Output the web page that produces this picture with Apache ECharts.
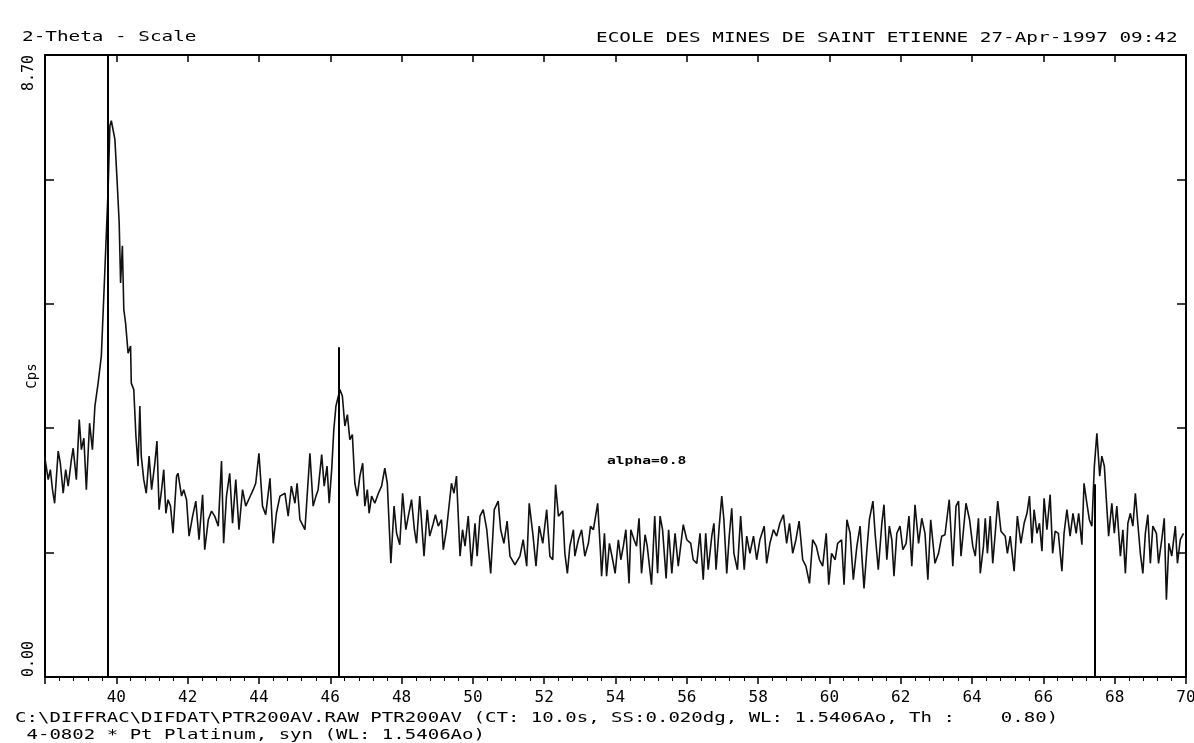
<!DOCTYPE html>
<html>
<head>
<meta charset="utf-8">
<script src="https://cdn.jsdelivr.net/npm/echarts@6/dist/echarts.min.js"></script>
<style>
html,body{margin:0;padding:0;background:#fff;}
#chart{width:1194px;height:743px;}
</style>
</head>
<body>
<div id="chart"></div>
<script>
// 2-theta positions (degrees)
const twoTheta = [
37.99,38.09,38.15,38.21,38.27,38.37,38.43,38.51,38.58,38.65,38.74,38.79,38.88,38.96,39.02,39.09,39.16,39.25,39.33,39.40,
39.49,39.58,39.68,39.77,39.82,39.86,39.96,40.02,40.08,40.12,40.17,40.21,40.26,40.33,40.40,40.42,40.49,40.55,40.61,40.66,
40.70,40.77,40.84,40.92,40.99,41.08,41.14,41.20,41.27,41.33,41.39,41.45,41.52,41.59,41.69,41.73,41.83,41.89,41.97,42.04,
42.14,42.23,42.32,42.42,42.48,42.58,42.67,42.76,42.86,42.95,43.01,43.09,43.18,43.26,43.35,43.44,43.54,43.63,43.73,43.84,
43.91,44.00,44.10,44.19,44.31,44.40,44.49,44.59,
44.73,44.82,44.91,45.01,45.07,45.15,45.29,45.43,45.52,45.60,45.66,45.76,45.83,45.91,45.97,46.04,46.10,46.16,46.27,46.34,
46.41,46.48,46.55,46.62,46.69,46.76,46.83,46.91,46.97,47.04,47.09,47.16,47.25,47.35,47.44,47.53,47.60,47.70,47.79,47.86,
47.95,48.03,48.12,48.19,48.28,48.36,48.42,48.51,48.63,48.72,48.79,48.89,48.95,49.03,49.12,49.17,49.26,49.40,49.47,49.54,
49.64,49.71,49.78,49.87,49.96,50.06,50.12,50.20,50.29,50.39,50.50,50.60,50.71,50.78,50.87,50.96,51.04,51.18,51.32,51.41,
51.51,51.58,51.68,51.77,51.86,51.96,52.07,52.16,52.24,52.32,52.40,52.52,
52.58,52.65,52.72,52.82,52.86,52.96,53.05,53.14,53.24,53.30,53.38,53.50,53.58,53.61,53.69,53.75,53.83,53.92,53.99,54.08,
54.15,54.22,54.29,54.38,54.43,54.52,54.59,54.66,54.73,54.83,54.89,55.01,55.10,55.18,55.25,55.32,55.42,55.49,55.58,55.67,
55.76,55.90,56.00,56.11,56.18,56.28,56.37,56.46,56.53,56.60,56.70,56.76,56.82,56.91,56.98,57.04,57.12,57.19,57.26,57.32,
57.42,57.51,57.61,57.68,57.77,57.87,57.96,58.05,58.17,58.24,58.33,58.43,58.52,58.61,58.71,58.80,58.88,58.97,59.06,59.15,
59.25,59.34,59.44,59.53,59.63,59.72,59.81,59.91,59.98,60.06,60.16,60.23,60.34,60.41,60.49,60.58,60.67,60.77,60.86,
60.91,60.97,61.05,61.12,61.22,61.28,61.37,61.47,61.53,61.61,61.68,61.75,61.81,61.89,61.98,62.06,62.15,62.23,62.31,62.40,
62.50,62.59,62.68,62.76,62.84,62.96,63.06,63.15,63.24,63.36,63.46,63.55,63.62,63.69,63.83,63.93,64.02,64.09,64.18,64.23,
64.32,64.37,64.43,64.51,64.58,64.65,64.72,64.81,64.93,64.99,65.07,65.18,65.27,65.37,65.46,65.54,65.61,65.68,65.74,65.82,
65.89,65.96,66.02,66.10,66.19,66.26,66.33,66.42,66.52,66.58,66.66,66.75,66.83,66.92,66.99,67.08,67.14,67.22,67.29,67.36,
67.43,67.50,67.58,67.64,67.71,67.76,67.83,67.92,67.99,68.06,68.16,68.23,68.30,68.37,68.44,68.51,68.58,68.64,68.72,68.79,
68.86,68.93,69.00,69.07,69.17,69.23,69.32,69.39,69.45,69.52,69.60,69.70,69.76,69.84,69.93
];
// intensity (Cps, as read on the 0.00 - 8.70 scale)
const intensity = [
3.09,2.76,2.90,2.62,2.43,3.16,2.99,2.57,2.90,2.67,3.04,3.20,2.76,3.60,3.18,3.34,2.62,3.55,3.18,3.79,
4.11,4.49,5.70,6.82,7.71,7.78,7.52,6.96,6.36,5.51,6.03,5.14,4.95,4.53,4.63,4.11,4.02,3.37,2.95,3.79,
3.09,2.76,2.57,3.09,2.62,2.99,3.30,2.34,2.62,2.90,2.29,2.48,2.39,2.01,2.81,2.85,2.53,2.62,2.48,1.97,
2.25,2.46,1.92,2.55,1.78,2.20,2.32,2.25,2.11,3.02,1.87,2.53,2.85,2.15,2.76,2.06,2.62,2.39,2.50,2.62,
2.71,3.13,2.39,2.27,2.78,1.87,2.29,2.53,
2.57,2.25,2.67,2.43,2.71,2.20,2.06,3.13,2.39,2.53,2.62,3.11,2.67,2.95,2.43,2.90,3.46,3.79,4.02,3.93,
3.51,3.67,3.32,3.39,2.71,2.53,2.81,2.99,2.39,2.62,2.29,2.53,2.43,2.57,2.67,2.92,2.71,1.59,2.39,2.01,
1.85,2.57,2.06,2.25,2.48,2.06,1.87,2.53,1.69,2.34,1.97,2.15,2.27,2.11,2.20,1.78,2.06,2.71,2.57,2.81,
1.69,2.06,1.83,2.25,1.55,2.15,1.69,2.25,2.34,2.06,1.45,2.34,2.46,2.06,1.87,2.18,1.69,1.57,1.69,1.92,
1.55,2.43,2.01,1.55,2.11,1.87,2.34,1.69,1.64,2.69,2.25,2.32,
1.73,1.45,1.83,2.06,1.69,1.92,2.06,1.69,1.87,2.11,2.06,2.43,1.73,1.41,2.01,1.41,1.87,1.64,1.45,1.92,
1.64,1.83,2.06,1.31,2.06,1.92,1.83,2.22,1.45,1.99,1.83,1.29,2.25,1.45,2.25,2.06,1.38,2.06,1.45,2.01,
1.55,2.13,1.92,1.87,1.64,1.59,2.01,1.36,2.01,1.50,1.97,2.15,1.50,2.11,2.53,2.20,1.45,1.97,2.36,1.73,
1.50,2.25,1.50,1.97,1.73,1.97,1.64,1.92,2.11,1.59,1.87,2.06,1.97,2.15,2.27,1.87,2.15,1.73,1.92,2.18,
1.64,1.55,1.31,1.92,1.83,1.64,1.55,2.01,1.29,1.73,1.64,1.87,1.92,1.29,2.20,2.01,1.36,1.83,2.11,
1.69,1.24,1.78,2.20,2.46,2.01,1.50,2.15,2.41,1.64,2.11,1.92,1.41,2.01,2.11,1.78,1.87,2.25,1.55,2.41,
1.87,2.22,2.01,1.36,2.20,1.59,1.73,1.97,1.99,2.48,1.55,2.39,2.46,1.69,2.43,2.20,1.83,1.69,2.22,1.45,
1.83,2.22,1.73,2.25,1.59,2.01,2.46,2.04,1.97,1.73,1.97,1.48,2.25,1.87,2.15,2.29,2.53,1.87,2.34,2.01,
2.15,1.76,2.50,2.06,2.55,1.73,2.04,2.01,1.48,2.01,2.34,1.97,2.29,2.01,2.29,1.85,2.71,2.43,2.20,2.11,
2.95,3.41,2.81,3.09,2.95,2.53,1.97,2.43,2.01,2.39,1.69,2.06,1.45,2.15,2.29,2.11,2.57,2.20,1.73,1.45,
2.01,2.27,1.59,2.11,2.01,1.59,1.92,2.22,1.08,1.87,1.69,2.11,1.59,1.92,2.01
];
// reference pattern 4-0802 Pt Platinum: line positions and relative intensities
const refPos = [39.76, 46.24, 67.45];
const refInt = [100, 53, 31];
// axis settings
const xMin = 38, xMax = 70, xStep = 2;
const yMin = 0, yMax = 8.70, yStep = 1.74;

const mono = '"DejaVu Sans Mono", "Liberation Mono", monospace';
const chart = echarts.init(document.getElementById('chart'));
const data = twoTheta.map((t, i) => [t, intensity[i]]);
const refLines = refPos.map((p, i) => [{coord: [p, 0]}, {coord: [p, yMax * refInt[i] / 100]}]);

chart.setOption({
  animation: false,
  backgroundColor: '#fff',
  grid: {left: 45, right: 8, top: 55, bottom: 66, containLabel: false, outerBoundsMode: 'none'},
  xAxis: [{
    type: 'value', min: xMin, max: xMax, interval: xStep, position: 'bottom',
    axisLine: {show: true, onZero: false, lineStyle: {color: '#000', width: 2}},
    axisTick: {show: true, inside: false, length: 7, lineStyle: {color: '#000', width: 1.5}},
    minorTick: {show: true, splitNumber: 5, length: 4, lineStyle: {color: '#000', width: 1}},
    splitLine: {show: false},
    axisLabel: {show: true, color: '#000', fontFamily: mono, fontSize: 16, margin: 13,
      formatter: v => (Math.abs(v - xMin) < 1e-6 ? '' : String(Math.round(v)))}
  }, {
    type: 'value', min: xMin, max: xMax, interval: xStep, position: 'top',
    axisLine: {show: true, onZero: false, lineStyle: {color: '#000', width: 2}},
    axisTick: {show: true, inside: true, length: 7, lineStyle: {color: '#000', width: 1.5}},
    axisLabel: {show: false}, splitLine: {show: false}
  }],
  yAxis: [{
    type: 'value', min: yMin, max: yMax, interval: yStep, position: 'left',
    axisLine: {show: true, onZero: false, lineStyle: {color: '#000', width: 2}},
    axisTick: {show: true, inside: true, length: 9, lineStyle: {color: '#000', width: 1.5}},
    splitLine: {show: false},
    axisLabel: {show: true, color: '#000', fontFamily: mono, fontSize: 15, rotate: 90, margin: 8,
      alignMinLabel: 'left', alignMaxLabel: 'right', verticalAlign: 'bottom',
      formatter: v => (Math.abs(v - yMin) < 1e-6 ? '0.00' : (Math.abs(v - yMax) < 1e-6 ? '8.70' : ''))}
  }, {
    type: 'value', min: yMin, max: yMax, interval: yStep, position: 'right',
    axisLine: {show: true, onZero: false, lineStyle: {color: '#000', width: 2}},
    axisTick: {show: true, inside: true, length: 9, lineStyle: {color: '#000', width: 1.5}},
    axisLabel: {show: false}, splitLine: {show: false}
  }],
  series: [{
    type: 'line', data: data, xAxisIndex: 0, yAxisIndex: 0,
    symbol: 'none', smooth: false,
    lineStyle: {color: '#111', width: 1.6},
    markLine: {
      silent: true, symbol: ['none', 'none'], label: {show: false},
      lineStyle: {color: '#000', width: 2, type: 'solid'},
      data: refLines
    }
  }],
  graphic: [
    {type: 'text', x: 22, y: 37, scaleX: 1.38, style: {text: '2-Theta - Scale', font: '14px ' + mono, fill: '#000', verticalAlign: 'middle'}},
    {type: 'text', x: 596, y: 38, scaleX: 1.38, style: {text: 'ECOLE DES MINES DE SAINT ETIENNE 27-Apr-1997 09:42', font: '14px ' + mono, fill: '#000', verticalAlign: 'middle'}},
    {type: 'text', x: 32, y: 376, rotation: Math.PI / 2, style: {text: 'Cps', font: '14px ' + mono, fill: '#000', align: 'center', verticalAlign: 'middle'}},
    {type: 'text', x: 607, y: 461, scaleX: 1.33, style: {text: 'alpha=0.8', font: 'bold 11px ' + mono, fill: '#000', verticalAlign: 'middle'}},
    {type: 'text', x: 15, y: 718, scaleX: 1.36, style: {text: 'C:\\DIFFRAC\\DIFDAT\\PTR200AV.RAW PTR200AV (CT: 10.0s, SS:0.020dg, WL: 1.5406Ao, Th :    0.80)', font: '14px ' + mono, fill: '#000', verticalAlign: 'middle'}},
    {type: 'text', x: 15, y: 735, scaleX: 1.36, style: {text: ' 4-0802 * Pt Platinum, syn (WL: 1.5406Ao)', font: '14px ' + mono, fill: '#000', verticalAlign: 'middle'}}
  ]
});
</script>
</body>
</html>
